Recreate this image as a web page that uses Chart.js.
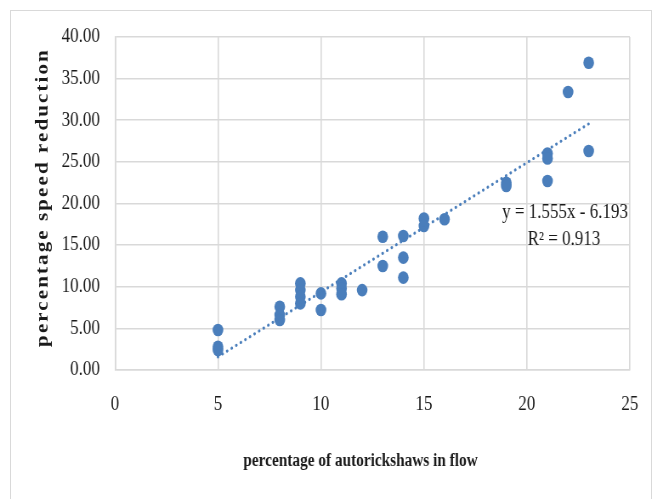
<!DOCTYPE html>
<html>
<head>
<meta charset="utf-8">
<script src="https://cdn.jsdelivr.net/npm/chart.js@4.4.1/dist/chart.umd.min.js"></script>
<style>
  html, body { margin: 0; padding: 0; background: #fff; overflow: hidden; }
  #wrap { position: relative; width: 660px; height: 499px; overflow: hidden; }
  #frame { position: absolute; left: 10px; top: 10px; width: 642px; height: 500px; border: 1px solid #d9d9d9; box-sizing: border-box; }
  #c { position: absolute; left: 0; top: 0; width: 776px; height: 499px; transform: scaleX(0.85); transform-origin: 0 0; }
</style>
</head>
<body>
<div id="wrap">
  <div id="frame"></div>
  <canvas id="c" width="776" height="499"></canvas>
</div>
<script>
// ---- data ----
const autoShare = [5, 5, 5, 8, 8, 8, 9, 9, 9, 9, 10, 10, 11, 11, 11, 12, 13, 13, 14, 14, 14, 15, 15, 16, 19, 19, 21, 21, 21, 22, 23, 23];
const speedReduction = [4.8, 2.8, 2.4, 7.6, 6.6, 6.0, 10.4, 9.6, 8.8, 8.0, 9.2, 7.2, 10.4, 9.8, 9.1, 9.6, 16.0, 12.5, 16.1, 13.5, 11.1, 18.2, 17.3, 18.1, 22.5, 22.1, 26.0, 25.4, 22.7, 33.4, 36.9, 26.3];
const trendX = [5, 23];
const trendY = [1.58, 29.57];
const equationLines = ["y = 1.555x - 6.193", "R\u00b2 = 0.913"];
const xTitle = "percentage of autorickshaws in flow";
const yTitle = "percentage speed reduction";

const serif = '"Liberation Serif", "Times New Roman", serif';
const blue = '#4a7ebb';
const gridCol = '#d9d9d9';

const points = autoShare.map((x, i) => ({ x: x, y: speedReduction[i] }));
const trend = trendX.map((x, i) => ({ x: x, y: trendY[i] }));

function patchTitle(scale, spacing, dx, dy) {
  if (!scale || scale._spPatched) return;
  const orig = scale.drawTitle;
  scale.drawTitle = function () {
    const c = this.ctx;
    c.save();
    c.letterSpacing = spacing;
    c.translate(dx, dy);
    orig.apply(this, arguments);
    c.restore();
  };
  scale._spPatched = true;
}

const titleTweaks = {
  id: 'titleTweaks',
  afterLayout(chart) {
    patchTitle(chart.scales.y, '2.1px', 0, -6);
    patchTitle(chart.scales.x, '0px', -14, 0);
  }
};

const equationLabel = {
  id: 'equationLabel',
  afterDatasetsDraw(chart) {
    const { ctx, scales: { x, y } } = chart;
    ctx.save();
    ctx.font = '20px ' + serif;
    ctx.fillStyle = '#1a1a1a';
    ctx.textAlign = 'center';
    ctx.textBaseline = 'middle';
    ctx.fillText(equationLines[0], x.getPixelForValue(21.85), y.getPixelForValue(18.85));
    ctx.fillText(equationLines[1], x.getPixelForValue(21.8), y.getPixelForValue(15.6));
    ctx.restore();
  }
};

new Chart(document.getElementById('c'), {
  type: 'scatter',
  data: {
    datasets: [
      {
        label: 'trend',
        data: trend,
        showLine: true,
        borderColor: blue,
        borderWidth: 3,
        borderDash: [0.1, 6],
        borderCapStyle: 'round',
        pointRadius: 0,
        fill: false
      },
      {
        label: 'data',
        data: points,
        backgroundColor: blue,
        borderColor: blue,
        borderWidth: 0,
        pointRadius: 6.3
      }
    ]
  },
  options: {
    responsive: false,
    animation: false,
    devicePixelRatio: 1,
    layout: { padding: { left: 38, top: 37, right: 35, bottom: 27 } },
    plugins: { legend: { display: false }, tooltip: { enabled: false } },
    scales: {
      x: {
        type: 'linear',
        min: 0, max: 25,
        ticks: { stepSize: 5, padding: 23, color: '#1a1a1a', font: { family: serif, size: 20 } },
        grid: { color: gridCol, lineWidth: 1.6, drawTicks: false },
        border: { display: true, color: gridCol, width: 1.6 },
        title: { display: true, text: xTitle, color: '#1a1a1a', padding: 0, font: { family: serif, size: 18, weight: 'bold' } },
        afterFit(s) { s.height = 102; s.paddingLeft = 0; s.paddingRight = 0; }
      },
      y: {
        type: 'linear',
        min: 0, max: 40,
        ticks: { stepSize: 5, padding: 17.7, color: '#1a1a1a', font: { family: serif, size: 20 }, callback: v => Number(v).toFixed(2) },
        grid: { color: gridCol, lineWidth: 1.6, drawTicks: false },
        border: { display: true, color: gridCol, width: 1.6 },
        title: { display: true, text: yTitle, color: '#1a1a1a', padding: 0, font: { family: serif, size: 21, weight: 'bold' } },
        afterFit(s) { s.width = 97.3; s.paddingTop = 0; s.paddingBottom = 0; }
      }
    }
  },
  plugins: [titleTweaks, equationLabel]
});
</script>
</body>
</html>
